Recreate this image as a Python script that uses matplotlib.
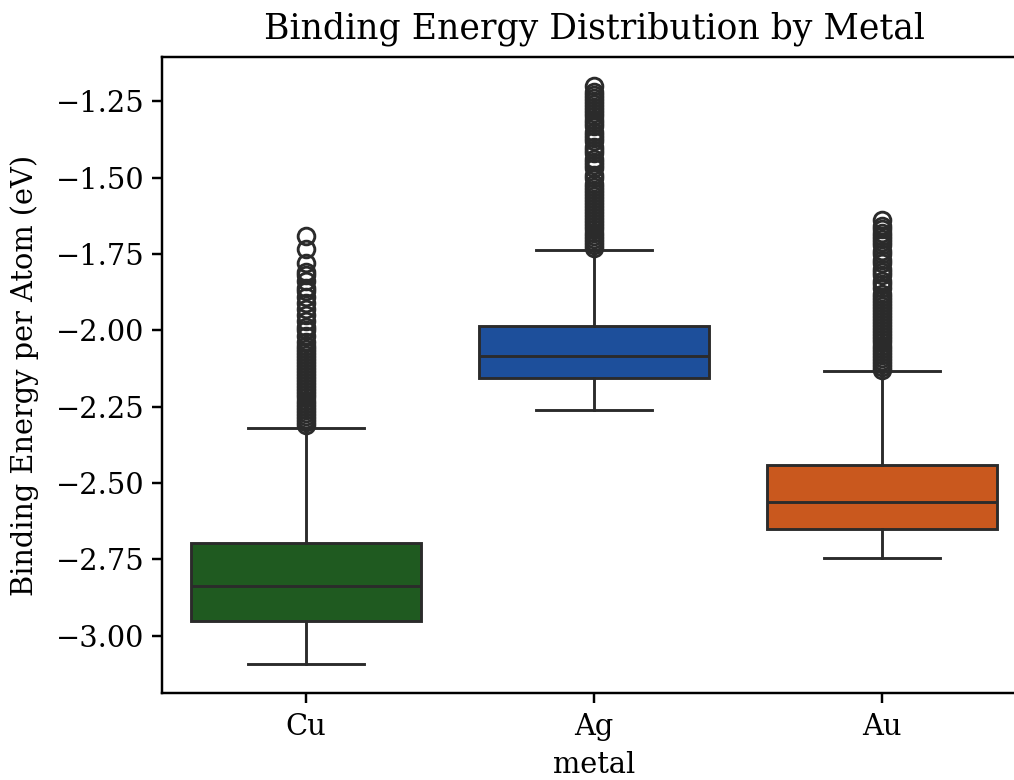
import matplotlib
matplotlib.use("Agg")
import matplotlib.pyplot as plt

plt.rcParams['font.family'] = ['DejaVu Serif']

metals = ['Cu', 'Ag', 'Au']
colors = ['#1f5a20', '#1d4f9b', '#c9581e']

# box statistics (eV)
medians = [-2.837, -2.084, -2.561]
q1s = [-2.953, -2.156, -2.651]
q3s = [-2.695, -1.986, -2.442]
whislos = [-3.093, -2.261, -2.744]
whishis = [-2.320, -1.738, -2.134]

cu_fliers = [-2.31, -2.30, -2.29, -2.28, -2.27, -2.26, -2.25, -2.24, -2.23,
             -2.22, -2.21, -2.20, -2.19, -2.18, -2.17, -2.16, -2.15, -2.14,
             -2.13, -2.12, -2.11, -2.10, -2.09, -2.08, -2.07, -2.06, -2.05,
             -2.04, -2.02, -2.00, -1.99, -1.97, -1.95, -1.93, -1.91, -1.89,
             -1.87, -1.86, -1.84, -1.82, -1.81, -1.78, -1.735, -1.69]
ag_fliers = [-1.73, -1.72, -1.71, -1.70, -1.69, -1.68, -1.67, -1.66, -1.65,
             -1.64, -1.63, -1.62, -1.61, -1.60, -1.59, -1.58, -1.57, -1.56,
             -1.55, -1.54, -1.53, -1.52, -1.50, -1.49, -1.47, -1.46, -1.45,
             -1.44, -1.42, -1.41, -1.40, -1.38, -1.37, -1.36, -1.35, -1.33,
             -1.32, -1.31, -1.30, -1.29, -1.28, -1.27, -1.26, -1.25, -1.24,
             -1.23, -1.22, -1.20]
au_fliers = [-2.13, -2.12, -2.11, -2.10, -2.09, -2.08, -2.07, -2.06, -2.05,
             -2.04, -2.03, -2.02, -2.01, -2.00, -1.99, -1.98, -1.97, -1.96,
             -1.95, -1.94, -1.93, -1.92, -1.91, -1.90, -1.89, -1.88, -1.86,
             -1.85, -1.84, -1.82, -1.81, -1.80, -1.78, -1.77, -1.75, -1.74,
             -1.72, -1.71, -1.70, -1.69, -1.68, -1.67, -1.66, -1.64]
fliers = [cu_fliers, ag_fliers, au_fliers]

stats = []
for i, m in enumerate(metals):
    stats.append({
        'label': m, 'med': medians[i], 'q1': q1s[i], 'q3': q3s[i],
        'whislo': whislos[i], 'whishi': whishis[i], 'fliers': fliers[i],
    })

fig = plt.figure(figsize=(1014 / 160, 780 / 160), dpi=160)
ax = fig.add_axes([0.1598, 0.1115, 0.852, 0.8154])

edge = '#2b2b2b'
lw = 1.3
bp = ax.bxp(stats, positions=range(len(metals)), widths=0.8, patch_artist=True,
            boxprops=dict(edgecolor=edge, linewidth=lw),
            medianprops=dict(color=edge, linewidth=lw),
            whiskerprops=dict(color=edge, linewidth=lw),
            capprops=dict(color=edge, linewidth=lw),
            capwidths=0.4,
            flierprops=dict(marker='o', markersize=7.5, markerfacecolor='none',
                            markeredgecolor=edge, markeredgewidth=lw))
for patch, c in zip(bp['boxes'], colors):
    patch.set_facecolor(c)

for sp in ax.spines.values():
    sp.set_linewidth(1.1)

ax.set_xlim(-0.5, 2.5)
ax.set_xticks(range(len(metals)))
ax.set_xticklabels(metals)
ax.tick_params(labelsize=13, length=4.5, width=1.1)
ax.tick_params(axis='x', pad=4.5)
ax.set_xlabel('metal', fontsize=13, labelpad=4.5)
ax.set_ylabel('Binding Energy per Atom (eV)', fontsize=13, labelpad=7.5)
ax.set_title('Binding Energy Distribution by Metal', fontsize=15.6, pad=8.5)

fig.savefig('out.png', dpi=160)
